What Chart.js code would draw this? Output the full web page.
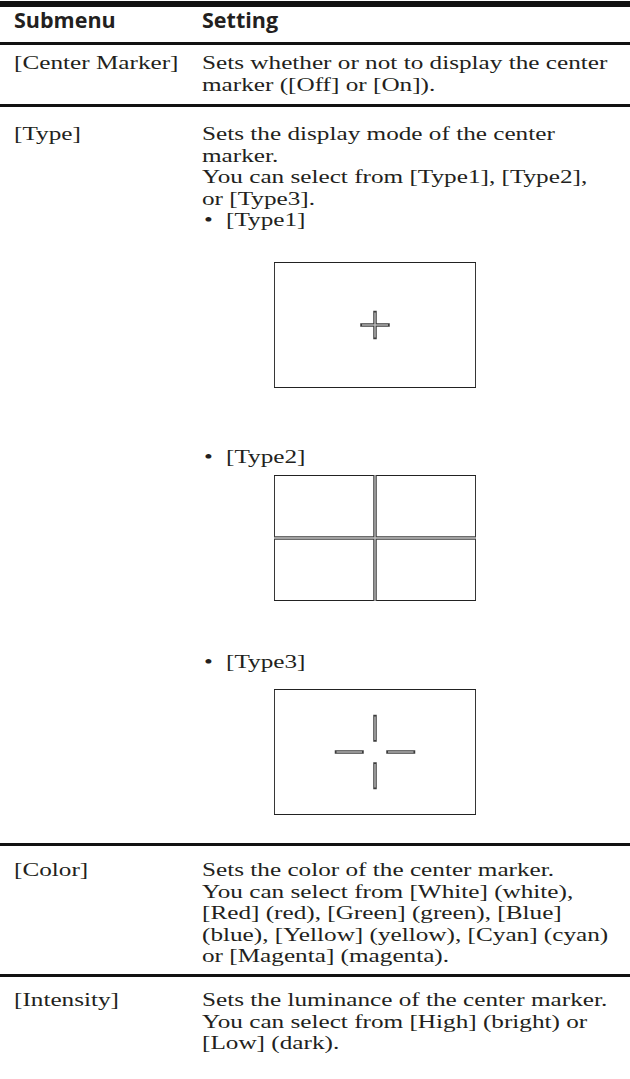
<!DOCTYPE html>
<html>
<head>
<meta charset="utf-8">
<script src="https://cdn.jsdelivr.net/npm/chart.js@4/dist/chart.umd.min.js"></script>
<style>
body { margin: 0; background: #fff; width: 630px; height: 1079px; position: relative; overflow: hidden; }
.t { position: absolute; font-family: "Liberation Serif", serif; font-size: 19.4px; line-height: 21.4px; color: #231f20;
     white-space: nowrap; transform: scaleX(1.3); transform-origin: 0 0; }
.h { position: absolute; font-family: "Open Sans", sans-serif; font-weight: 700; font-size: 21.5px; line-height: 24px; color: #231f20; white-space: nowrap; }
.rule { position: absolute; left: 0; width: 630px; background: #111; }
canvas { position: absolute; }
</style>
</head>
<body>

<div class="rule" style="top:1px;height:6px"></div>
<div class="h" style="left:14px;top:8px">Submenu</div>
<div class="h" style="left:202px;top:8px">Setting</div>
<div class="rule" style="top:42px;height:2.5px"></div>

<div class="t" style="left:14px;top:52px">[Center Marker]</div>
<div class="t" style="left:202px;top:52px">Sets whether or not to display the center</div>
<div class="t" style="left:202px;top:74px">marker ([Off] or [On]).</div>
<div class="rule" style="top:104px;height:3px"></div>

<div class="t" style="left:14px;top:123px">[Type]</div>
<div class="t" style="left:202px;top:123px">Sets the display mode of the center</div>
<div class="t" style="left:202px;top:144.5px">marker.</div>
<div class="t" style="left:202px;top:166px">You can select from [Type1], [Type2],</div>
<div class="t" style="left:202px;top:187.5px">or [Type3].</div>
<div class="t" style="left:204px;top:209px">•</div>
<div class="t" style="left:226px;top:209px">[Type1]</div>
<canvas id="chart_type1" width="210" height="134" style="left:270px;top:258px"></canvas>

<div class="t" style="left:204px;top:446px">•</div>
<div class="t" style="left:226px;top:446px">[Type2]</div>
<canvas id="chart_type2" width="210" height="134" style="left:270px;top:471px"></canvas>

<div class="t" style="left:204px;top:651px">•</div>
<div class="t" style="left:226px;top:651px">[Type3]</div>
<canvas id="chart_type3" width="210" height="134" style="left:270px;top:685px"></canvas>
<div class="rule" style="top:843px;height:3px"></div>

<div class="t" style="left:14px;top:859px">[Color]</div>
<div class="t" style="left:202px;top:859px">Sets the color of the center marker.</div>
<div class="t" style="left:202px;top:880.5px">You can select from [White] (white),</div>
<div class="t" style="left:202px;top:902px">[Red] (red), [Green] (green), [Blue]</div>
<div class="t" style="left:202px;top:923.5px">(blue), [Yellow] (yellow), [Cyan] (cyan)</div>
<div class="t" style="left:202px;top:945px">or [Magenta] (magenta).</div>
<div class="rule" style="top:974px;height:3px"></div>

<div class="t" style="left:14px;top:989px">[Intensity]</div>
<div class="t" style="left:202px;top:989px">Sets the luminance of the center marker.</div>
<div class="t" style="left:202px;top:1010.5px">You can select from [High] (bright) or</div>
<div class="t" style="left:202px;top:1032px">[Low] (dark).</div>

<script>
// screen frame, same for the three types (x 0..202, y 0..126)
const frameRect = [[0, 0], [202, 0], [202, 126], [0, 126], [0, 0]];

// marker strokes, each one is a segment [start, end]
const type1Segments = [
	[[88, 63], [114, 63]],
	[[101, 50.5], [101, 75.5]]
];
const type2Segments = [
	[[101, 0], [101, 126]],
	[[0, 63], [202, 63]]
];
const type3Segments = [
	[[62.5, 63], [88, 63]],
	[[114, 63], [139.5, 63]],
	[[101, 75], [101, 98.5]],
	[[101, 27.5], [101, 51]]
];

function toPoints(arr) {
	return arr.map(p => ({ x: p[0], y: p[1] }));
}

function makeMarker(id, segments) {
	let datasets = [{
		data: toPoints(frameRect),
		borderColor: "#222",
		borderWidth: 1.8,
		order: 3,
	}];
	// dark outline first, light core on top -> looks like a double line
	segments.forEach(seg => {
		datasets.push({
			data: toPoints(seg),
			borderColor: "#3c3c3c",
			borderWidth: 3.5,
			borderCapStyle: "square",
			order: 2,
		});
		datasets.push({
			data: toPoints(seg),
			borderColor: "#c4c4c4",
			borderWidth: 1.3,
			order: 1,
		});
	});

	const ctx = document.getElementById(id).getContext("2d");
	return new Chart(ctx, {
		type: "scatter",
		data: { datasets: datasets },
		options: {
			responsive: false,
			animation: false,
			devicePixelRatio: 1,
			events: [],
			showLine: true,
			layout: { padding: 4 },
			elements: { point: { radius: 0 } },
			plugins: { legend: { display: false }, tooltip: { enabled: false } },
			scales: {
				x: { type: "linear", min: 0, max: 202, display: false },
				y: { type: "linear", min: 0, max: 126, display: false },
			},
		},
	});
}

let chart_type1 = makeMarker("chart_type1", type1Segments);
let chart_type2 = makeMarker("chart_type2", type2Segments);
let chart_type3 = makeMarker("chart_type3", type3Segments);
</script>
</body>
</html>
